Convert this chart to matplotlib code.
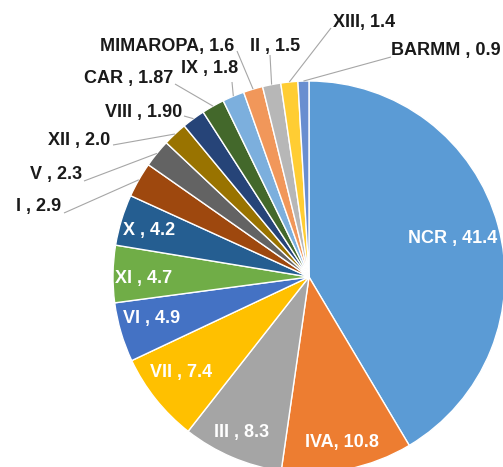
import matplotlib
matplotlib.use("Agg")
import matplotlib.pyplot as plt
import numpy as np

plt.rcParams["font.family"] = ["Liberation Sans", "DejaVu Sans"]

# ── data ─────────────────────────────────────────────────────────────────────
regions = ["NCR", "IVA", "III", "VII", "VI", "XI", "X", "I", "V", "XII",
           "VIII", "CAR", "IX", "MIMAROPA", "II", "XIII", "BARMM"]
values = [41.4, 10.8, 8.3, 7.4, 4.9, 4.7, 4.2, 2.9, 2.3, 2.0,
          1.90, 1.87, 1.8, 1.6, 1.5, 1.4, 0.9]
value_text = ["41.4", "10.8", "8.3", "7.4", "4.9", "4.7", "4.2", "2.9", "2.3",
              "2.0", "1.90", "1.87", "1.8", "1.6", "1.5", "1.4", "0.9"]
colors = ["#5B9BD5", "#ED7D31", "#A5A5A5", "#FFC000", "#4472C4", "#70AD47",
          "#255E91", "#9E480E", "#636363", "#997300", "#264478", "#43682B",
          "#7CAFDD", "#F1975A", "#B7B7B7", "#FFCD33", "#698ED0"]

# ── layout (pixel coords, y from top) ────────────────────────────────────────
W, H = 503, 467
CX, CY, R = 309, 277, 196

# inside labels: name -> (x center, y center, text)
inside = {
    "NCR": (453, 238, "NCR , 41.4"),
    "IVA": (342, 443, "IVA, 10.8"),
    "III": (242, 432, "III , 8.3"),
    "VII": (181, 373, "VII , 7.4"),
    "VI": (152, 318, "VI , 4.9"),
    "XI": (144, 278, "XI , 4.7"),
    "X": (149, 231, "X , 4.2"),
}
# outside labels: name -> (text x, text y, ha, line start x, line start y, text)
outside = {
    "I": (61, 207, "right", 64, 213, "I , 2.9"),
    "V": (82, 175, "right", 84, 181, "V , 2.3"),
    "XII": (110, 140, "right", 113, 145, "XII , 2.0"),
    "VIII": (182, 112, "right", 184, 116, "VIII , 1.90"),
    "CAR": (173, 78, "right", 175, 84, "CAR , 1.87"),
    "IX": (210, 68, "center", 232, 82, "IX , 1.8"),
    "MIMAROPA": (234, 46, "right", 237, 51, "MIMAROPA, 1.6"),
    "II": (275, 46, "center", 270, 55, "II , 1.5"),
    "XIII": (364, 22, "center", 331, 28, "XIII, 1.4"),
    "BARMM": (446, 50, "center", 391, 57, "BARMM , 0.9"),
}

fig = plt.figure(figsize=(W / 100, H / 100), dpi=100)
ax = fig.add_axes([0, 0, 1, 1])

wedges, _ = ax.pie(values, colors=colors, startangle=90, counterclock=False,
                   center=(CX, H - CY), radius=R,
                   wedgeprops=dict(edgecolor="white", linewidth=1.0))
ax.set_xlim(0, W)
ax.set_ylim(0, H)
ax.set_aspect("equal")
ax.axis("off")

for name, w in zip(regions, wedges):
    if name in inside:
        x, y, txt = inside[name]
        ax.text(x, H - y, txt, ha="center", va="center", fontsize=13,
                fontweight="bold", color="white")
    elif name in outside:
        tx, ty, ha, lx, ly, txt = outside[name]
        ang = np.deg2rad((w.theta1 + w.theta2) / 2)
        ex = CX + R * np.cos(ang)
        ey = (H - CY) + R * np.sin(ang)
        ax.plot([lx, ex], [H - ly, ey], color="#A6A6A6", lw=0.8,
                solid_capstyle="butt")
        ax.text(tx, H - ty, txt, ha=ha, va="center", fontsize=13,
                fontweight="bold", color="#1a1a1a")

plt.savefig("out.png", dpi=100)
